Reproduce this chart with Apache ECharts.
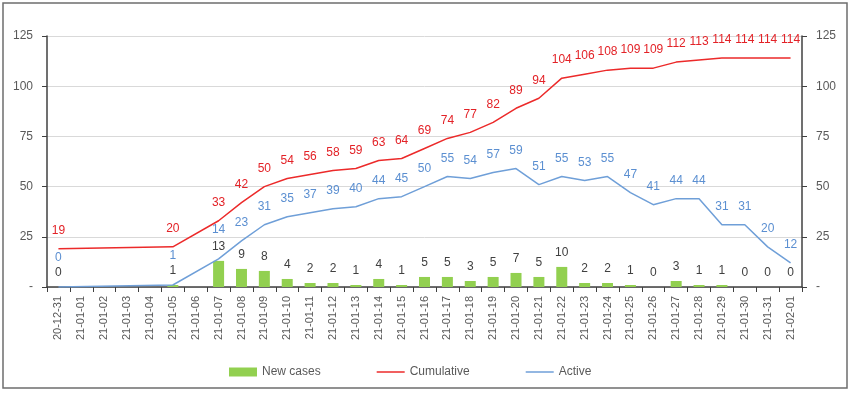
<!DOCTYPE html>
<html>
<head>
<meta charset="utf-8">
<script src="https://cdn.jsdelivr.net/npm/echarts@6/dist/echarts.min.js"></script>
<style>
  html, body { margin: 0; padding: 0; background: #fff; }
  #chart { width: 850px; height: 397px; }
</style>
</head>
<body>
<div id="chart"></div>
<script>
// dates on the x axis
const days = ['20-12-31', '21-01-01', '21-01-02', '21-01-03', '21-01-04', '21-01-05', '21-01-06',
  '21-01-07', '21-01-08', '21-01-09', '21-01-10', '21-01-11', '21-01-12', '21-01-13', '21-01-14',
  '21-01-15', '21-01-16', '21-01-17', '21-01-18', '21-01-19', '21-01-20', '21-01-21', '21-01-22',
  '21-01-23', '21-01-24', '21-01-25', '21-01-26', '21-01-27', '21-01-28', '21-01-29', '21-01-30',
  '21-01-31', '21-02-01']
// null = no report that day (line is just joined across)
const newCases = [0, null, null, null, null, 1, null,
  13, 9, 8, 4, 2, 2, 1, 4, 1, 5, 5, 3, 5, 7, 5, 10, 2, 2, 1, 0, 3, 1, 1, 0, 0, 0]
const cumulative = [19, null, null, null, null, 20, null,
  33, 42, 50, 54, 56, 58, 59, 63, 64, 69, 74, 77, 82, 89, 94, 104, 106, 108, 109, 109, 112, 113, 114, 114, 114, 114]
const active = [0, null, null, null, null, 1, null,
  14, 23, 31, 35, 37, 39, 40, 44, 45, 50, 55, 54, 57, 59, 51, 55, 53, 55, 47, 41, 44, 44, 31, 31, 20, 12]
const yTicks = { min: 0, max: 125, step: 25 }

const FONT = "'Liberation Sans', Arial, sans-serif"
const GREY = '#595959'

// labels that sit higher so they don't run into the bar labels
const raisedActive = [0, 5, 7]
const activeData = active.map((v, i) => {
  if (raisedActive.indexOf(i) >= 0 && v !== null) {
    return { value: v, label: { distance: 23 } }
  }
  return v
})

function yAxisOpt(pos) {
  return {
    type: 'value',
    position: pos,
    min: yTicks.min,
    max: yTicks.max,
    interval: yTicks.step,
    axisLine: { show: true, lineStyle: { color: '#404040', width: 1.5 } },
    axisTick: { show: true, length: 5, lineStyle: { color: '#404040' } },
    axisLabel: {
      margin: 14,
      color: GREY,
      fontSize: 12,
      fontFamily: FONT,
      formatter: (v) => v === 0 ? '-' : v
    },
    splitLine: { show: pos === 'left', lineStyle: { color: '#d9d9d9', width: 1 } }
  }
}

let chart = echarts.init(document.getElementById('chart'), null, { renderer: 'canvas' })
let option = {
  animation: false,
  textStyle: { fontFamily: FONT },
  grid: { left: 47, right: 48, top: 36, bottom: 110 },
  graphic: [{
    type: 'rect',
    shape: { x: 3, y: 3, width: 844, height: 385 },
    style: { fill: 'none', stroke: '#6e6e6e', lineWidth: 1.5 },
    silent: true
  }],
  legend: {
    left: 224,
    top: 361,
    itemWidth: 28,
    itemHeight: 9,
    itemGap: 56,
    textStyle: { color: GREY, fontSize: 12, fontFamily: FONT },
    data: [
      { name: 'New cases', icon: 'rect' },
      { name: 'Cumulative', icon: 'path://M0,0H30V1.6H0Z' },
      { name: 'Active', icon: 'path://M0,0H30V1.6H0Z' }
    ]
  },
  xAxis: {
    type: 'category',
    data: days,
    boundaryGap: true,
    axisLine: { lineStyle: { color: '#404040', width: 1.5 } },
    axisTick: { show: true, interval: 0, length: 5, lineStyle: { color: '#404040' } },
    axisLabel: {
      interval: 0,
      rotate: 90,
      margin: 9,
      color: GREY,
      fontSize: 11,
      fontFamily: FONT
    }
  },
  yAxis: [yAxisOpt('left'), yAxisOpt('right')],
  series: [
    {
      name: 'New cases',
      type: 'bar',
      data: newCases,
      barWidth: 11,
      itemStyle: { color: '#92d050' },
      label: {
        show: true,
        position: 'top',
        distance: 8,
        color: '#404040',
        fontSize: 12,
        fontFamily: FONT
      }
    },
    {
      name: 'Cumulative',
      type: 'line',
      data: cumulative,
      connectNulls: true,
      symbol: 'circle',
      symbolSize: 0.1,
      showSymbol: true,
      itemStyle: { color: '#ec2a2a' },
      lineStyle: { color: '#ec2a2a', width: 1.5 },
      label: {
        show: true,
        position: 'top',
        distance: 12,
        color: '#e32227',
        fontSize: 12,
        fontFamily: FONT
      }
    },
    {
      name: 'Active',
      type: 'line',
      data: activeData,
      connectNulls: true,
      symbol: 'circle',
      symbolSize: 0.1,
      showSymbol: true,
      itemStyle: { color: '#6f9fd8' },
      lineStyle: { color: '#6f9fd8', width: 1.5 },
      label: {
        show: true,
        position: 'top',
        distance: 12,
        color: '#5b8fd1',
        fontSize: 12,
        fontFamily: FONT
      }
    }
  ]
}
chart.setOption(option)
</script>
</body>
</html>
